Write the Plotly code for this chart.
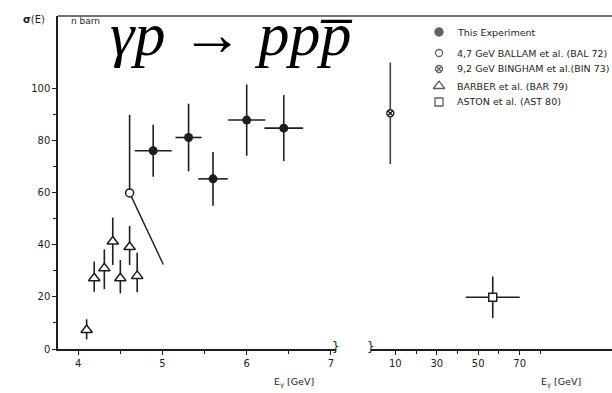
import plotly.graph_objects as go

# ---------------- data ----------------
this_x = [4.89, 5.31, 5.60, 6.00, 6.44]
this_y = [76.2, 81.3, 65.4, 88.0, 84.9]
this_xerr = [0.22, 0.155, 0.175, 0.22, 0.23]
this_yerr = [10.0, 13.0, 10.3, 13.7, 12.7]

ballam_x = [4.61]
ballam_y = [60.0]
ballam_err_plus = [30.0]
ballam_err_minus = [0.0]
ballam_line_x = [4.61, 5.01]
ballam_line_y = [60.0, 32.5]

barber_x = [4.10, 4.19, 4.31, 4.41, 4.50, 4.61, 4.70]
barber_y = [7.3, 27.2, 31.0, 41.3, 27.2, 39.2, 28.1]
barber_err_plus = [4.1, 6.4, 7.3, 9.2, 7.0, 8.1, 8.9]
barber_err_minus = [3.6, 5.2, 8.0, 9.0, 5.8, 6.9, 6.3]

bingham_x = [7.6]
bingham_y = [90.6]
bingham_err = [19.5]

aston_x = [57.0]
aston_y = [19.9]
aston_xerr = [13.0]
aston_yerr = [8.0]

left_ticks = [4, 5, 6, 7]
left_minor = [4.5, 5.5, 6.5]
right_ticks = [10, 30, 50, 70]
right_minor = [20, 40, 60, 80]
y_ticks = [0, 20, 40, 60, 80, 100]
y_minor = [10, 30, 50, 70, 90]

legend_labels = [
    "This Experiment",
    "4,7 GeV BALLAM et al. (BAL 72)",
    "9,2 GeV BINGHAM et al.(BIN 73)",
    "BARBER et al. (BAR 79)",
    "ASTON et al. (AST 80)",
]
legend_symbols = ["circle", "circle-open", "circle-x-open", "triangle-up-open", "square-open"]
legend_sizes = [8, 7, 7, 10, 8]

# ---------------- layout geometry ----------------
W, H = 612, 393
L, R, T, B = 58, 0, 16, 44
PW, PH = W - L - R, H - T - B


def px(x):
    return (x - L) / PW


def py(y):
    return (H - B - y) / PH


INK = "#1e1e1e"
SANS = "DejaVu Sans"

fig = go.Figure()

# This experiment
fig.add_trace(go.Scatter(
    x=this_x, y=this_y, mode="markers",
    marker=dict(symbol="circle", size=9, color=INK),
    error_x=dict(type="data", array=this_xerr, width=0, thickness=1.6, color=INK),
    error_y=dict(type="data", array=this_yerr, width=0, thickness=1.6, color=INK),
    xaxis="x", yaxis="y", showlegend=False))

# Ballam line + point
fig.add_trace(go.Scatter(
    x=ballam_line_x, y=ballam_line_y, mode="lines",
    line=dict(color=INK, width=1.4), xaxis="x", yaxis="y", showlegend=False))
fig.add_trace(go.Scatter(
    x=ballam_x, y=ballam_y, mode="markers",
    marker=dict(symbol="circle", size=8, color="white", line=dict(color=INK, width=1.5)),
    error_y=dict(type="data", symmetric=False, array=ballam_err_plus,
                 arrayminus=ballam_err_minus, width=0, thickness=1.6, color=INK),
    xaxis="x", yaxis="y", showlegend=False))

# Barber
fig.add_trace(go.Scatter(
    x=barber_x, y=barber_y, mode="markers",
    marker=dict(symbol="triangle-up", size=10, color="white", line=dict(color=INK, width=1.5)),
    error_y=dict(type="data", symmetric=False, array=barber_err_plus,
                 arrayminus=barber_err_minus, width=0, thickness=1.6, color=INK),
    xaxis="x", yaxis="y", showlegend=False))

# Bingham (right panel)
fig.add_trace(go.Scatter(
    x=bingham_x, y=bingham_y, mode="markers",
    marker=dict(symbol="circle-x", size=7, color="white", line=dict(color=INK, width=1.4)),
    error_y=dict(type="data", array=bingham_err, width=0, thickness=1.6, color="#444"),
    xaxis="x2", yaxis="y", showlegend=False))

# Aston (right panel)
fig.add_trace(go.Scatter(
    x=aston_x, y=aston_y, mode="markers",
    marker=dict(symbol="square", size=8, color="white", line=dict(color=INK, width=1.5)),
    error_x=dict(type="data", array=aston_xerr, width=0, thickness=1.6, color=INK),
    error_y=dict(type="data", array=aston_yerr, width=0, thickness=1.6, color=INK),
    xaxis="x2", yaxis="y", showlegend=False))

# Legend markers on a pixel-space helper subplot covering the whole plot area
leg_rows = [32, 53, 69, 86, 102]
leg_mx = 439
leg_tx = 455
fig.add_trace(go.Scatter(
    x=[leg_mx] * len(legend_symbols), y=leg_rows, mode="markers",
    marker=dict(symbol=legend_symbols, size=legend_sizes, color=INK,
                line=dict(color=INK, width=1.3)),
    xaxis="x3", yaxis="y3", showlegend=False, hoverinfo="skip", cliponaxis=False))

axis_common = dict(showline=True, linecolor=INK, linewidth=1.5, showgrid=False,
                   zeroline=False, ticks="outside", tickcolor=INK, tickwidth=1.3,
                   ticklen=4, tickfont=dict(family=SANS, size=10, color=INK))

left_end = 336
right_start = 371
fig.update_layout(
    width=W, height=H,
    margin=dict(l=L, r=R, t=T, b=B),
    plot_bgcolor="rgba(0,0,0,0)", paper_bgcolor="white",
    xaxis=dict(domain=[0, px(left_end)], range=[3.76, 7.06], anchor="y",
               tickvals=left_ticks, ticktext=[str(v) for v in left_ticks],
               minor=dict(tickvals=left_minor, ticks="outside", ticklen=3,
                          tickcolor=INK, tickwidth=1.2),
               **axis_common),
    xaxis2=dict(domain=[px(right_start), 1], range=[-1.7, 114.5], anchor="y",
                tickvals=right_ticks, ticktext=[str(v) for v in right_ticks],
                minor=dict(tickvals=right_minor, ticks="outside", ticklen=3,
                           tickcolor=INK, tickwidth=1.2),
                **axis_common),
    yaxis=dict(domain=[0, 1], range=[0, 128], anchor="x",
               tickvals=y_ticks, ticktext=[str(v) for v in y_ticks],
               minor=dict(tickvals=y_minor, ticks="outside", ticklen=3,
                          tickcolor=INK, tickwidth=1.2),
               **axis_common),
    xaxis3=dict(domain=[0, 1], range=[L, W], visible=False, anchor="y3", fixedrange=True),
    yaxis3=dict(domain=[0, 1], range=[H - B, T], visible=False, anchor="x3", fixedrange=True),
)

# top frame line
fig.add_shape(type="line", xref="paper", yref="paper", x0=0, x1=1, y0=1, y1=1,
              line=dict(color="#444", width=1.5))

ann = []
# title
ann.append(dict(x=px(231), y=py(34), xref="paper", yref="paper",
                text="<i>γp</i> → <i>ppp\u0305</i>", showarrow=False,
                font=dict(family="Liberation Serif", size=62, color="black"),
                xanchor="center", yanchor="middle"))
# y label
ann.append(dict(x=px(21), y=py(19), xref="paper", yref="paper", text="<b>σ</b>(E)",
                showarrow=False, font=dict(family=SANS, size=10, color=INK),
                xanchor="left", yanchor="middle"))
ann.append(dict(x=px(69), y=py(21), xref="paper", yref="paper", text="n barn",
                showarrow=False, font=dict(family=SANS, size=9, color=INK),
                xanchor="left", yanchor="middle"))
# x labels
for cx in (272, 539):
    ann.append(dict(x=px(cx), y=py(382), xref="paper", yref="paper",
                    text="E<sub>γ</sub> [GeV]", showarrow=False,
                    font=dict(family=SANS, size=9.5, color=INK),
                    xanchor="left", yanchor="middle"))
# axis breaks
for bx in (left_end, right_start):
    ann.append(dict(x=px(bx), y=py(347), xref="paper", yref="paper", text="}",
                    showarrow=False, font=dict(family=SANS, size=12, color=INK),
                    xanchor="center", yanchor="middle"))
# legend text
for lab, ry in zip(legend_labels, leg_rows):
    ann.append(dict(x=px(leg_tx), y=py(ry), xref="paper", yref="paper", text=lab,
                    showarrow=False, font=dict(family=SANS, size=9.5, color=INK),
                    xanchor="left", yanchor="middle"))
fig.update_layout(annotations=ann)

fig.write_html("out.html")
